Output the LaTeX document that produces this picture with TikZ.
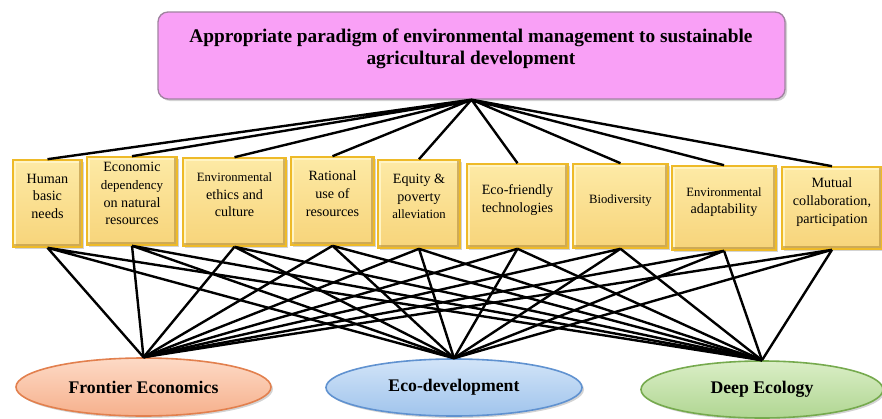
\documentclass[tikz,border=0pt]{standalone}
\usepackage{fontspec}
\setmainfont{Liberation Serif}
\usetikzlibrary{shapes.geometric,shadows}

\definecolor{pinkbox}{RGB}{249,160,246}
\definecolor{pinkrim}{RGB}{160,130,160}
\definecolor{goldlt}{RGB}{253,234,166}
\definecolor{golddk}{RGB}{247,212,122}
\definecolor{goldrim}{RGB}{238,186,40}
\definecolor{goldedge}{RGB}{190,152,70}
\definecolor{goldhi}{RGB}{255,244,196}
\definecolor{peachlt}{RGB}{253,218,198}
\definecolor{peachdk}{RGB}{246,176,140}
\definecolor{peachrim}{RGB}{226,128,78}
\definecolor{skylt}{RGB}{210,228,248}
\definecolor{skydk}{RGB}{160,196,236}
\definecolor{skyrim}{RGB}{96,146,208}
\definecolor{leaflt}{RGB}{218,238,198}
\definecolor{leafdk}{RGB}{176,214,146}
\definecolor{leafrim}{RGB}{118,170,78}

\tikzset{every picture/.style={line width=0.75pt}}
\tikzset{
	softshadow/.style={drop shadow={opacity=0.35,shadow xshift=1.5pt,shadow yshift=-1.5pt}},
	titlebox/.style={draw=pinkrim,line width=1pt,fill=pinkbox,rounded corners=7.5pt,
		minimum width=470.25pt,minimum height=65.25pt,softshadow},
	bevel/.style={path picture={
		\draw [goldhi,line width=5pt] (path picture bounding box.south west) -- (path picture bounding box.north west)
			-- (path picture bounding box.north east);
		\draw [goldedge,line width=5pt,opacity=0.7] (path picture bounding box.north east)
			-- (path picture bounding box.south east) -- (path picture bounding box.south west);}},
	factor/.style={draw=goldrim,line width=1.2pt,top color=goldlt,bottom color=golddk,bevel,
		align=center,inner sep=1pt,text depth=11pt,font=\fontsize{10.6}{13.2}\selectfont,softshadow},
	paradigm/.style={ellipse,line width=1.2pt,inner sep=0pt,
		font=\fontsize{13.3}{15}\selectfont\bfseries,softshadow},
	link/.style={line width=1.8pt}
}

\begin{document}
\begin{tikzpicture}[x=0.75pt,y=0.75pt,yscale=-1,xscale=1]
	\useasboundingbox (0,0) rectangle (882,418);
	
	%Rounded Rect: goal
	\node [titlebox] (goal) at (471.5,55.5) {};
	% Text Node
	\node [align=center,font=\fontsize{14.5}{16.5}\selectfont\bfseries] (goaltext) at (471,49)
		{Appropriate paradigm of environmental management to sustainable\\agricultural development};
	
	%Shape: Rectangle (factors)
	\node [factor,minimum width=51.75pt,minimum height=65.25pt] (needs) at (47.5,203.5) {Human\\basic\\needs};
	\node [factor,minimum width=67.5pt,minimum height=66pt] (depend) at (132,201)
		{Economic\\{\fontsize{9.75}{13.2}\selectfont dependency}\\on natural\\resources};
	\node [factor,minimum width=77.25pt,minimum height=66pt] (ethics) at (234.5,202)
		{{\fontsize{9.5}{13.2}\selectfont Environmental}\\ethics and\\culture};
	\node [factor,minimum width=62.25pt,minimum height=66pt] (rational) at (332.5,201) {Rational\\use of\\resources};
	\node [factor,minimum width=61.5pt,minimum height=66pt] (equity) at (419,204)
		{Equity \&\\poverty\\{\fontsize{9.5}{13.2}\selectfont alleviation}};
	\node [factor,minimum width=75.75pt,minimum height=63pt] (ecotech) at (517.5,206) {Eco-friendly\\technologies};
	\node [factor,minimum width=71.25pt,minimum height=63pt,font=\fontsize{9.5}{13.2}\selectfont] (biodiv) at (620.5,206) {Biodiversity};
	\node [factor,minimum width=78pt,minimum height=63pt] (adapt) at (724,208)
		{{\fontsize{9.5}{13.2}\selectfont Environmental}\\adaptability};
	\node [factor,minimum width=75pt,minimum height=61.5pt] (mutual) at (832,208) {Mutual\\collaboration,\\participation};
	
	%Shape: Ellipse (paradigms)
	\node [paradigm,draw=peachrim,top color=peachlt,bottom color=peachdk,
		minimum width=191.25pt,minimum height=43.5pt] (frontier) at (143.5,387) {Frontier Economics};
	\node [paradigm,draw=skyrim,top color=skylt,bottom color=skydk,
		minimum width=192pt,minimum height=42.75pt] (ecodev) at (454,387.5) {Eco-development};
	\node [paradigm,draw=leafrim,top color=leaflt,bottom color=leafdk,
		minimum width=181.5pt,minimum height=42.75pt] (deep) at (762,389.5) {Deep Ecology};
	
	%Straight Lines: goal to factors
	\draw [link] (goal.south) -- (needs.north) (goal.south) -- (depend.north) (goal.south) -- (ethics.north)
		(goal.south) -- (rational.north) (goal.south) -- (equity.north) (goal.south) -- (ecotech.north)
		(goal.south) -- (biodiv.north) (goal.south) -- (adapt.north) (goal.south) -- (mutual.north);
	%Straight Lines: factors to paradigms
	\draw [link] (needs.south) -- (frontier.north) (needs.south) -- (ecodev.north) (needs.south) -- (deep.north);
	\draw [link] (depend.south) -- (frontier.north) (depend.south) -- (ecodev.north) (depend.south) -- (deep.north);
	\draw [link] (ethics.south) -- (frontier.north) (ethics.south) -- (ecodev.north) (ethics.south) -- (deep.north);
	\draw [link] (rational.south) -- (frontier.north) (rational.south) -- (ecodev.north) (rational.south) -- (deep.north);
	\draw [link] (equity.south) -- (frontier.north) (equity.south) -- (ecodev.north) (equity.south) -- (deep.north);
	\draw [link] (ecotech.south) -- (frontier.north) (ecotech.south) -- (ecodev.north) (ecotech.south) -- (deep.north);
	\draw [link] (biodiv.south) -- (frontier.north) (biodiv.south) -- (ecodev.north) (biodiv.south) -- (deep.north);
	\draw [link] (adapt.south) -- (frontier.north) (adapt.south) -- (ecodev.north) (adapt.south) -- (deep.north);
	\draw [link] (mutual.south) -- (frontier.north) (mutual.south) -- (ecodev.north) (mutual.south) -- (deep.north);
	
\end{tikzpicture}
\end{document}
